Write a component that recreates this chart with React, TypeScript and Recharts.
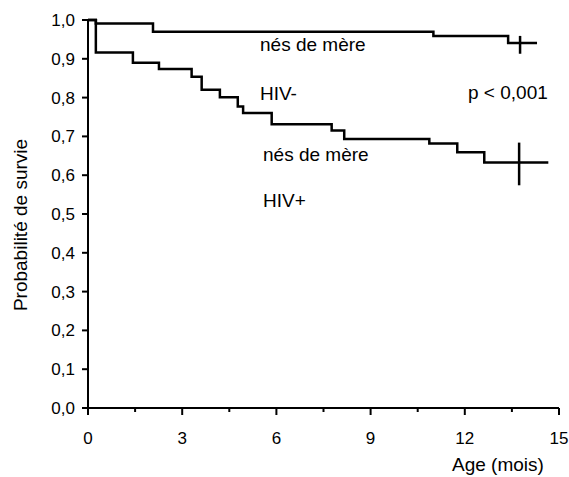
import { LineChart, Line, XAxis, YAxis, Scatter, ErrorBar } from 'recharts';

// Kaplan-Meier steps: t = age in months, s = survival probability
const hivNeg = [
  { t: 0, s: 1 },
  { t: 0.25, s: 0.991 },
  { t: 2.07, s: 0.97 },
  { t: 11.0, s: 0.959 },
  { t: 13.38, s: 0.941 },
  { t: 14.3, s: 0.941 },
];

const hivPos = [
  { t: 0, s: 1 },
  { t: 0.25, s: 0.916 },
  { t: 1.43, s: 0.89 },
  { t: 2.26, s: 0.874 },
  { t: 3.3, s: 0.854 },
  { t: 3.62, s: 0.82 },
  { t: 4.2, s: 0.801 },
  { t: 4.77, s: 0.777 },
  { t: 4.94, s: 0.76 },
  { t: 5.85, s: 0.731 },
  { t: 7.76, s: 0.715 },
  { t: 8.16, s: 0.693 },
  { t: 10.87, s: 0.682 },
  { t: 11.76, s: 0.659 },
  { t: 12.62, s: 0.633 },
  { t: 14.66, s: 0.633 },
];

// interval marks at the end of each curve
const hivNegMark = [{ t: 13.76, s: 0.936, e: 0.023 }];
const hivPosMark = [{ t: 13.73, s: 0.629, e: 0.055 }];

const xTicks = [0, 1.5, 3, 4.5, 6, 7.5, 9, 10.5, 12, 13.5, 15];
const yTicks = [0, 0.1, 0.2, 0.3, 0.4, 0.5, 0.6, 0.7, 0.8, 0.9, 1];

const font = '"Liberation Sans", Arial, sans-serif';

const XTick = (props: any) => {
  const { x, y, payload } = props;
  const major = payload.value % 3 === 0;
  return (
    <g>
      <line x1={x} x2={x} y1={y} y2={y + (major ? 7 : 4)} stroke="#000" strokeWidth={2} />
      {major && (
        <text x={x} y={y + 36} textAnchor="middle" fontSize={17} fontFamily={font} fill="#000">
          {payload.value}
        </text>
      )}
    </g>
  );
};

export default function App() {
  const W = 561;
  const H = 469;
  return (
    <div style={{ position: 'relative', width: 569, height: 477, overflow: 'hidden' }}>
      <style>{'html,body{margin:0;padding:0;overflow:hidden}'}</style>
      <div style={{ position: 'absolute', left: 8, top: 8, width: W, height: H }}>
        <LineChart
          width={W}
          height={H}
          margin={{ top: 12, right: 10, left: 0, bottom: 0 }}
          style={{ overflow: 'visible' }}
        >
          <XAxis
            type="number"
            dataKey="t"
            domain={[0, 15]}
            ticks={xTicks}
            interval={0}
            tickLine={false}
            tickSize={0}
            tickMargin={0}
            tick={<XTick />}
            height={69}
            axisLine={{ stroke: '#000', strokeWidth: 2 }}
            allowDuplicatedCategory={false}
          />
          <YAxis
            type="number"
            dataKey="s"
            domain={[0, 1]}
            ticks={yTicks}
            interval={0}
            width={80}
            tickSize={6}
            tickMargin={7}
            tickFormatter={(v: number) => v.toFixed(1).replace('.', ',')}
            tick={{ fontSize: 17, fill: '#000', fontFamily: font }}
            tickLine={{ stroke: '#000', strokeWidth: 2 }}
            axisLine={{ stroke: '#000', strokeWidth: 2 }}
          />
          <Line
            data={hivNeg}
            dataKey="s"
            type="stepAfter"
            stroke="#000"
            strokeWidth={2.5}
            dot={false}
            activeDot={false}
            isAnimationActive={false}
          />
          <Line
            data={hivPos}
            dataKey="s"
            type="stepAfter"
            stroke="#000"
            strokeWidth={2.5}
            dot={false}
            activeDot={false}
            isAnimationActive={false}
          />
          <Scatter data={hivNegMark} dataKey="s" shape={() => <g />} isAnimationActive={false}>
            <ErrorBar dataKey="e" direction="y" width={0} stroke="#000" strokeWidth={2.5} isAnimationActive={false} />
          </Scatter>
          <Scatter data={hivPosMark} dataKey="s" shape={() => <g />} isAnimationActive={false}>
            <ErrorBar dataKey="e" direction="y" width={0} stroke="#000" strokeWidth={2.5} isAnimationActive={false} />
          </Scatter>
        </LineChart>
        <svg
          width={W}
          height={H}
          style={{ position: 'absolute', left: 0, top: 0, pointerEvents: 'none', overflow: 'visible' }}
          fontFamily={font}
          fill="#000"
        >
          <text x={252} y={43} fontSize={19}>nés de mère</text>
          <text x={252} y={92} fontSize={19}>HIV-</text>
          <text x={460} y={91} fontSize={19}>p &lt; 0,001</text>
          <text x={255} y={153} fontSize={19}>nés de mère</text>
          <text x={255} y={199} fontSize={19}>HIV+</text>
          <text x={444} y={463} fontSize={19}>Age (mois)</text>
          <text x={19} y={217} fontSize={19} textAnchor="middle" transform="rotate(-90 19 217)">
            Probabilité de survie
          </text>
        </svg>
      </div>
    </div>
  );
}
